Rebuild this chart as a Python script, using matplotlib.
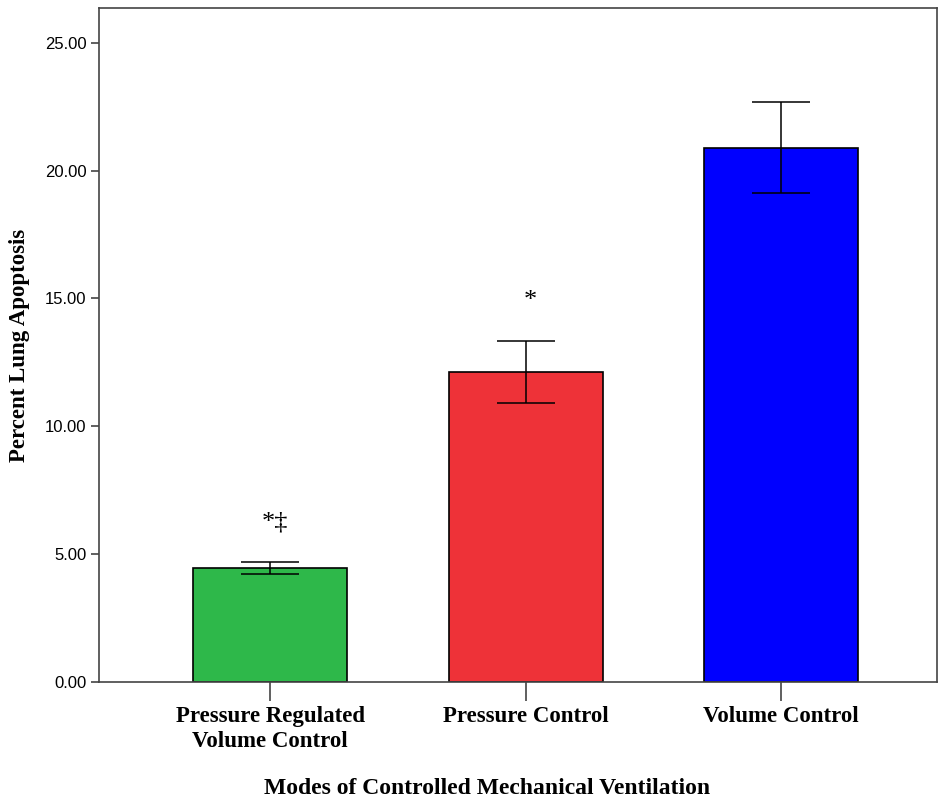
import matplotlib.pyplot as plt

categories = ["Pressure Regulated\nVolume Control", "Pressure Control", "Volume Control"]
means = [4.46, 12.12, 20.88]
err_low = [0.24, 1.21, 1.76]
err_high = [0.23, 1.22, 1.80]
colors = ["#2eb84a", "#ee3238", "#0000ff"]
marks = ["*\u2021", "*", ""]
yticks = [0, 5, 10, 15, 20, 25]

fig = plt.figure(figsize=(9.39, 7.99), dpi=100)
ax = fig.add_axes([0.1054, 0.1464, 0.8926, 0.8436])

x = range(len(categories))
ax.bar(x, means, width=0.603, color=colors, edgecolor="black", linewidth=1.2, zorder=2)
ax.errorbar(x, means, yerr=[err_low, err_high], fmt="none", ecolor="black",
            elinewidth=1.1, capsize=21, capthick=1.1, zorder=3)

# significance markers above the bars
for xi, m, eh, lab in zip(x, means, err_high, marks):
    if lab:
        ax.text(xi + 0.02, m + eh + 1.55, lab, ha="center", va="center",
                fontsize=19, family="Liberation Serif")

ax.set_xlim(-0.67, 2.61)
ax.set_ylim(0, 26.36)
ax.set_yticks(yticks)
ax.set_yticklabels([f"{v:.2f}" for v in yticks], family="Liberation Sans", fontsize=12)
ax.set_xticks(list(x))
ax.set_xticklabels(categories, family="Liberation Serif", fontweight="bold", fontsize=16.5,
                   linespacing=1.25)
ax.tick_params(axis="y", length=6, width=1.2, color="#444444", pad=3)
ax.tick_params(axis="x", length=14, width=1.2, color="#444444", pad=3)

for s in ax.spines.values():
    s.set_color("#444444")
    s.set_linewidth(1.2)

ax.set_ylabel("Percent Lung Apoptosis", family="Liberation Serif", fontweight="bold",
              fontsize=16.5, labelpad=11)
fig.text(0.519, 0.0, "Modes of Controlled Mechanical Ventilation", ha="center",
         va="bottom", family="Liberation Serif", fontweight="bold", fontsize=17)

fig.savefig("out.png", dpi=100)
